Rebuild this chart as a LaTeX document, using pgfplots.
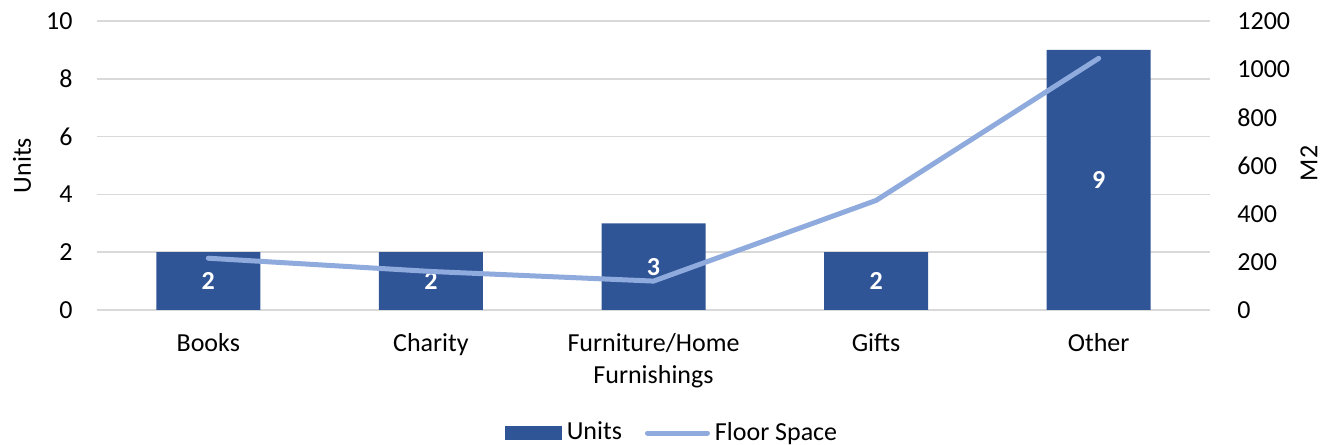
\documentclass[border=0pt]{standalone}
\usepackage{pgfplots}
\pgfplotsset{compat=1.18}
\usepackage{pgfplotstable}
\usepackage{fontspec}
\setmainfont{Carlito}
\definecolor{barblue}{HTML}{2F5597}
\definecolor{lineblue}{HTML}{8FAADC}
\definecolor{gridgray}{HTML}{D9D9D9}
\newcommand{\F}{\fontsize{13bp}{16bp}\selectfont}

\pgfplotstableread{
x units space
0 2 215
1 2 160
2 3 120
3 2 455
4 9 1045
}\datatable

\begin{document}
\F
\begin{tikzpicture}
\useasboundingbox (0,0) rectangle (662bp,222.5bp);
\begin{axis}[
  at={(48.5bp,67.5bp)}, anchor=south west,
  scale only axis, width=556.5bp, height=144.5bp,
  xmin=-0.5, xmax=4.5, ymin=0, ymax=10, ytick={0,2,...,10},
  xtick={0,...,4},
  xticklabels={Books,Charity,{Furniture/Home\\Furnishings},Gifts,Other},
  /pgf/number format/assume math mode=true,
  /pgf/number format/1000 sep={},
  axis line style={draw=none}, major tick length=0pt,
  ymajorgrids, grid style={gridgray, line width=0.75bp},
  every tick label/.append style={font=\F},
  xticklabel style={align=center, anchor=north, inner sep=0pt, yshift=-11.5bp},
  yticklabel style={anchor=east, inner sep=0pt, xshift=-12bp},
  ylabel={Units},
  every axis y label/.style={at={(rel axis cs:0,0.5)}, xshift=-37.5bp, rotate=90, anchor=center, font=\F},
  legend style={at={(rel axis cs:0.5,0)}, anchor=center, yshift=-61.5bp, xshift=10bp,
    draw=none, fill=none, legend columns=-1, font=\F, inner sep=0pt,
    nodes={inner sep=2.5bp},
    /tikz/every even column/.append style={column sep=9bp}},
]
\addplot[ybar, bar width=52bp, fill=barblue, draw=none,
  legend image code/.code={\fill[barblue] (0bp,-3.5bp) rectangle (28.5bp,3.5bp);}]
  table[x=x, y=units]{\datatable};
\addlegendentry{Units}
\addplot[draw=none, mark=none, forget plot, nodes near coords, point meta=explicit,
  every node near coord/.append style={anchor=center, text=white, font=\F\bfseries}]
  table[x=x, y expr=\thisrow{units}/2, meta=units]{\datatable};
\addlegendimage{legend image code/.code={\draw[lineblue, line width=2.5bp, line cap=round] (0bp,0bp)--(30bp,0bp);}}
\addlegendentry{Floor Space}
\end{axis}
\begin{axis}[
  at={(48.5bp,67.5bp)}, anchor=south west,
  scale only axis, width=556.5bp, height=144.5bp,
  xmin=-0.5, xmax=4.5, ymin=0, ymax=1200, ytick={0,200,...,1200},
  xtick=\empty,
  /pgf/number format/assume math mode=true,
  /pgf/number format/1000 sep={},
  axis line style={draw=none}, major tick length=0pt,
  yticklabel pos=right,
  every tick label/.append style={font=\F},
  yticklabel style={anchor=west, inner sep=0pt, xshift=13.5bp},
  ylabel={M2},
  every axis y label/.style={at={(rel axis cs:1,0.5)}, xshift=49.5bp, yshift=1bp, rotate=90, anchor=center, font=\F},
]
\addplot[lineblue, line width=2.5bp, line join=round, line cap=round, mark=none]
  table[x=x, y=space]{\datatable};
\end{axis}
\end{tikzpicture}
\end{document}
